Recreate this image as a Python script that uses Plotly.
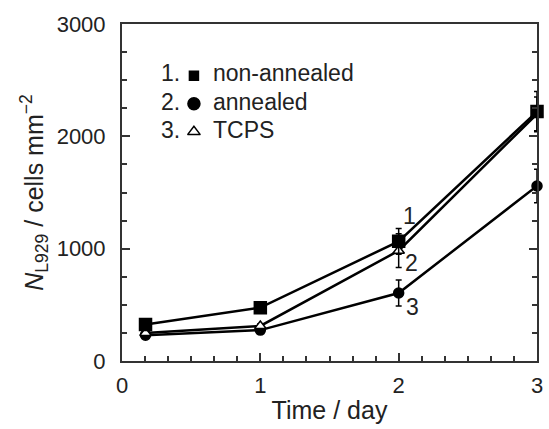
import plotly.graph_objects as go

days = [0.17, 1, 2, 3]
non_annealed = [325, 475, 1065, 2220]
non_annealed_err = [30, 25, 115, 180]
annealed = [230, 275, 605, 1558]
annealed_err = [20, 20, 115, 150]
tcps = [250, 312, 982, 2200]
tcps_err = [20, 20, 150, 150]

legend_nums = ["1.", "2.", "3."]
legend_names = ["non-annealed", "annealed", "TCPS"]
legend_y = [2560, 2310, 2060]
curve_labels = ["1", "2", "3"]
curve_label_pos = [(2.08, 1290), (2.09, 875), (2.1, 480)]

FONT = "Liberation Sans, Arial, sans-serif"
TXT = "#222"

fig = go.Figure()

def add(y, err, symbol, size, fill):
    fig.add_trace(go.Scatter(
        x=days, y=y, mode="lines+markers",
        line=dict(color="black", width=2.5),
        marker=dict(symbol=symbol, size=size, color=fill,
                    line=dict(color="black", width=1.5)),
        error_y=dict(type="data", array=err, visible=True,
                     color="black", thickness=1.5, width=3),
        showlegend=False, cliponaxis=False))

add(annealed, annealed_err, "circle", 10, "black")
add(tcps, tcps_err, "triangle-up", 10, "white")
add(non_annealed, non_annealed_err, "square", 12, "black")

# legend built as text + marker glyphs
leg_sym = ["square", "circle", "triangle-up"]
leg_size = [9, 12, 11]
leg_fill = ["black", "black", "white"]
for num, name, yy, sym, sz, fc in zip(legend_nums, legend_names, legend_y, leg_sym, leg_size, leg_fill):
    fig.add_annotation(x=0.435, y=yy, text=num, showarrow=False,
                       xanchor="right", yanchor="middle",
                       font=dict(family=FONT, size=23, color=TXT))
    fig.add_annotation(x=0.64, y=yy, text=name, showarrow=False,
                       xanchor="left", yanchor="middle",
                       font=dict(family=FONT, size=23, color=TXT))
    fig.add_trace(go.Scatter(
        x=[0.52], y=[yy - 20], mode="markers",
        marker=dict(symbol=sym, size=sz, color=fc, line=dict(color="black", width=1.5)),
        showlegend=False, hoverinfo="skip"))

for txt, (xx, yy) in zip(curve_labels, curve_label_pos):
    fig.add_annotation(x=xx, y=yy, text=txt, showarrow=False,
                       xanchor="center", yanchor="middle",
                       font=dict(family=FONT, size=23, color=TXT))

fig.update_layout(
    width=549, height=429,
    margin=dict(l=122, r=6, t=24, b=68),
    paper_bgcolor="white", plot_bgcolor="white",
    font=dict(family=FONT, size=22, color=TXT),
)
fig.update_xaxes(
    range=[0, 3], tickvals=[0, 1, 2, 3], showgrid=False, zeroline=False,
    showline=True, linecolor="#333", linewidth=2, mirror=True,
    ticks="inside", ticklen=8, tickwidth=1.5, tickcolor="#333",
    minor=dict(dtick=1/6, ticks="inside", ticklen=5, tickwidth=1.5, tickcolor="#333"),
    tickfont=dict(size=22), ticklabelstandoff=4,
    title=dict(text="Time / day", font=dict(size=25), standoff=4),
)
fig.update_yaxes(
    range=[0, 3000], tickvals=[0, 1000, 2000, 3000], showgrid=False, zeroline=False,
    showline=True, linecolor="#333", linewidth=2, mirror="ticks",
    ticks="inside", ticklen=8, tickwidth=1.5, tickcolor="#333",
    minor=dict(dtick=250, ticks="inside", ticklen=5, tickwidth=1.5, tickcolor="#333"),
    tickfont=dict(size=22), ticklabelstandoff=10,
    title=dict(text="<i>N</i><sub>L929</sub> / cells mm<sup>−2</sup>", font=dict(size=25), standoff=6),
)

fig.write_html("out.html")
